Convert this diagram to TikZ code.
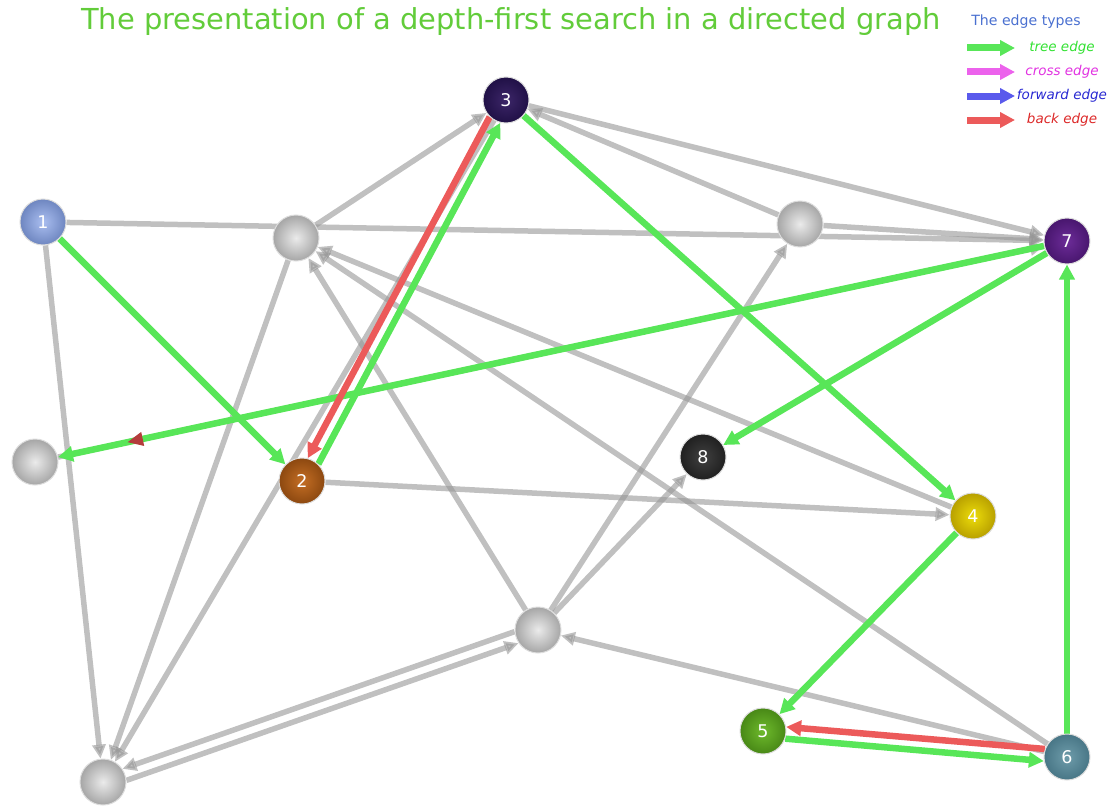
\documentclass[tikz,border=0pt]{standalone}
\usepackage{fontspec}
\setmainfont{DejaVu Sans}
\usetikzlibrary{arrows.meta, decorations.markings}
\definecolor{titleGreen}{RGB}{98,204,58}
\definecolor{legendBlue}{RGB}{74,112,208}
\definecolor{edgeGray}{RGB}{150,150,150}
\definecolor{treeGreen}{RGB}{88,230,88}
\definecolor{backRed}{RGB}{236,90,90}
\definecolor{crossPink}{RGB}{236,98,236}
\definecolor{fwdBlue}{RGB}{90,90,236}
\definecolor{treeText}{RGB}{50,225,50}
\definecolor{crossText}{RGB}{225,50,225}
\definecolor{fwdText}{RGB}{40,40,210}
\definecolor{backText}{RGB}{220,40,40}
\definecolor{markRed}{RGB}{180,60,60}
\definecolor{nodeRim}{RGB}{220,220,220}
\newcommand{\nodeSize}{46pt}
\newcommand{\edgeWidth}{6.5pt}
\newcommand{\grayWidth}{5.5pt}
\newcommand{\headTip}{{Triangle[length=15pt, width=15pt]}}
\newcommand{\grayHead}{{Triangle[length=14pt, width=13pt]}}
\newcommand{\legendHead}{{Triangle[length=15pt, width=15pt]}}
\tikzstyle{vertex}=[circle, minimum size=\nodeSize, inner sep=0, draw=nodeRim, line width=1pt, text=white, font=\fontsize{17.5}{20}\selectfont]
\tikzstyle{unvisited}=[vertex, inner color=black!8, outer color=black!35]
\tikzstyle{grayEdge}=[draw=edgeGray, line width=\grayWidth, opacity=0.6, -\grayHead]
\tikzstyle{treeEdge}=[draw=treeGreen, line width=\edgeWidth, -\headTip]
\tikzstyle{backEdge}=[draw=backRed, line width=\edgeWidth, -\headTip]
\tikzstyle{legendArrow}=[line width=7pt, -\legendHead]
\tikzstyle{legendText}=[font=\fontsize{13.5}{16}\selectfont\itshape]
\pgfdeclarelayer{bg}
\pgfsetlayers{bg,main}

\begin{document}
\begin{tikzpicture}[x=1pt, y=-1pt]
\useasboundingbox (0,0) rectangle (1119,808);

% Title
\node[text=titleGreen, font=\fontsize{28.9}{33}\selectfont] (title) at (511,22) {The presentation of a depth-first search in a directed graph};

% Legend
\node[text=legendBlue, font=\fontsize{14.1}{17}\selectfont] (legend) at (1026,22) {The edge types};
\foreach \y/\c/\tc/\t in {48/treeGreen/treeText/tree edge, 72/crossPink/crossText/cross edge, 96/fwdBlue/fwdText/forward edge, 120/backRed/backText/back edge} {
  \draw[legendArrow, draw=\c, fill=\c] (967,\y) -- (1015,\y);
  \node[legendText, text=\tc] at (1062,\y) {\t};
  }

% Vertices
\node[vertex, inner color={rgb,255:red,170;green,190;blue,240}, outer color={rgb,255:red,110;green,134;blue,192}] (n1) at (43,222) {1};
\node[vertex, inner color={rgb,255:red,196;green,110;blue,36}, outer color={rgb,255:red,140;green,72;blue,16}] (n2) at (302,481) {2};
\node[vertex, inner color={rgb,255:red,60;green,38;blue,104}, outer color={rgb,255:red,32;green,16;blue,70}] (n3) at (506,100) {3};
\node[vertex, inner color={rgb,255:red,236;green,220;blue,10}, outer color={rgb,255:red,184;green,160;blue,0}] (n4) at (973,516) {4};
\node[vertex, inner color={rgb,255:red,110;green,186;blue,44}, outer color={rgb,255:red,72;green,136;blue,22}] (n5) at (763,731) {5};
\node[vertex, inner color={rgb,255:red,110;green,156;blue,170}, outer color={rgb,255:red,72;green,118;blue,134}] (n6) at (1067,757) {6};
\node[vertex, inner color={rgb,255:red,108;green,44;blue,152}, outer color={rgb,255:red,72;green,22;blue,110}] (n7) at (1067,241) {7};
\node[vertex, inner color={rgb,255:red,64;green,64;blue,64}, outer color={rgb,255:red,32;green,32;blue,32}] (n8) at (703,457) {8};
\node[unvisited] (g1) at (296,238) {};
\node[unvisited] (g2) at (800,224) {};
\node[unvisited] (g3) at (35,462) {};
\node[unvisited] (g4) at (538,630) {};
\node[unvisited] (g5) at (103,782) {};

\begin{pgfonlayer}{bg}
% Unclassified edges
\draw[grayEdge] (n1) -- (n7);
\draw[grayEdge] (n1) -- (g5);
\draw[grayEdge] (g1) -- (n3);
\draw[grayEdge] (g1) -- (g5);
\draw[grayEdge] (n3) -- (g5);
\draw[grayEdge] (g2) -- (n3);
\draw[grayEdge] (n3) -- (n7);
\draw[grayEdge] (g2) -- (n7);
\draw[grayEdge] (g3) -- (n7);
\draw[grayEdge] (n2) -- (n4);
\draw[grayEdge] (n4) -- (g1);
\draw[grayEdge] (n6) -- (g1);
\draw[grayEdge] (g4) -- (g1);
\draw[grayEdge] (g4) -- (g2);
\draw[grayEdge] (g4) -- (n8);
\draw[grayEdge] (g4.184.3) -- (g5.34.3);
\draw[grayEdge] (g5.4.3) -- (g4.214.3);
\draw[grayEdge] (n6) -- (g4);

% Tree edges
\draw[treeEdge] (n1) -- (n2);
\draw[treeEdge] (n2.46.8) -- (n3.256.8);
\draw[treeEdge] (n3) -- (n4);
\draw[treeEdge] (n4) -- (n5);
\draw[treeEdge] (n5.-19.9) -- (n6.190.1);
\draw[treeEdge] (n6) -- (n7);
\draw[treeEdge] (n7) -- (n8);
\draw[treeEdge, postaction={decorate}, decoration={markings, mark=at position 0.93 with {\arrow[markRed]{Triangle[length=16pt, width=13pt]}}}] (n7) -- (g3);

% Back edges
\draw[backEdge] (n3.226.8) -- (n2.76.8);
\draw[backEdge] (n6.160.1) -- (n5.10.1);
\end{pgfonlayer}

\end{tikzpicture}
\end{document}
